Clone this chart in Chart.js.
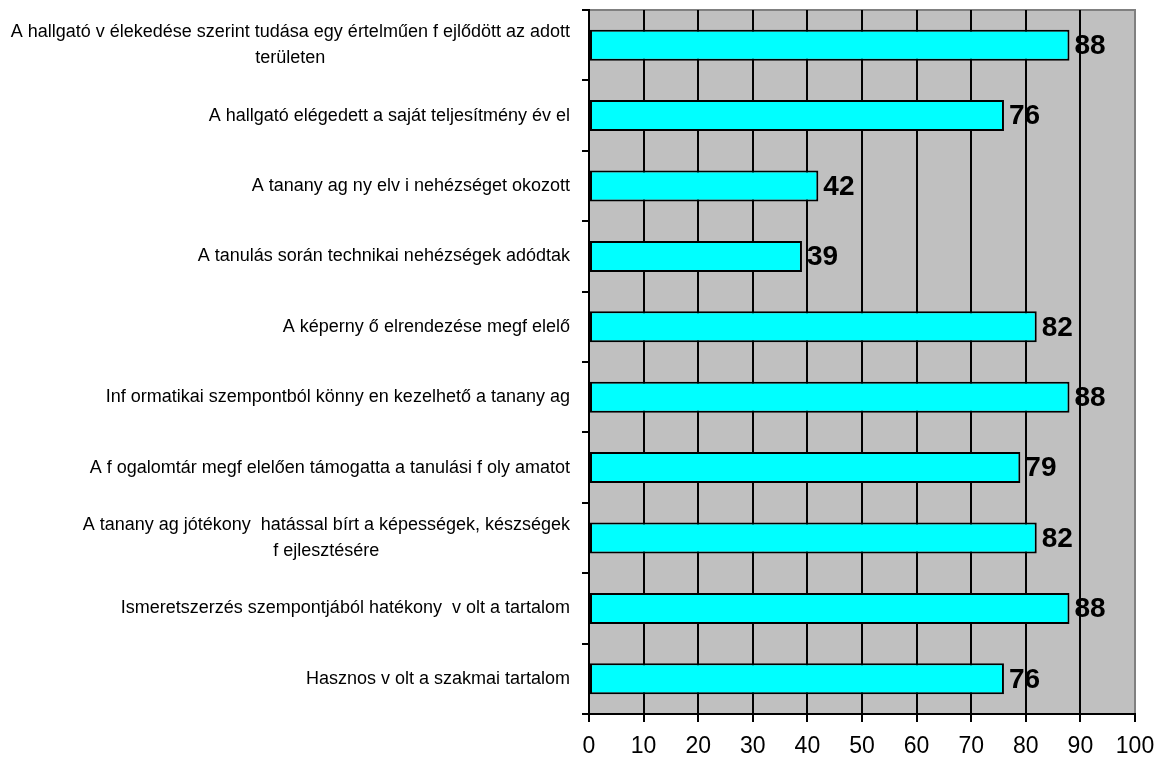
<!DOCTYPE html>
<html>
<head>
<meta charset="utf-8">
<script src="https://cdn.jsdelivr.net/npm/chart.js@4.4.1/dist/chart.umd.min.js"></script>
<style>
html,body{margin:0;padding:0;background:#fff;}
#wrap{width:1158px;height:762px;position:relative;}
</style>
</head>
<body>
<div id="wrap"><canvas id="c" width="1158" height="762"></canvas></div>
<script>
const categories = [
  ["A hallgató v élekedése szerint tudása egy értelműen f ejlődött az adott", "területen"],
  ["A hallgató elégedett a saját teljesítmény év el"],
  ["A tanany ag ny elv i nehézséget okozott"],
  ["A tanulás során technikai nehézségek adódtak"],
  ["A képerny ő elrendezése megf elelő"],
  ["Inf ormatikai szempontból könny en kezelhető a tanany ag"],
  ["A f ogalomtár megf elelően támogatta a tanulási f oly amatot"],
  ["A tanany ag jótékony  hatással bírt a képességek, készségek", "f ejlesztésére"],
  ["Ismeretszerzés szempontjából hatékony  v olt a tartalom"],
  ["Hasznos v olt a szakmai tartalom"]
];
const values = [88, 76, 42, 39, 82, 88, 79, 82, 88, 76];
const xMin = 0, xMax = 100, xStep = 10;

const plotBg = {
  id: 'plotBg',
  beforeDraw(chart) {
    const {ctx, chartArea: a} = chart;
    ctx.save();
    ctx.fillStyle = '#c0c0c0';
    ctx.fillRect(a.left, a.top, a.right - a.left, a.bottom - a.top);
    ctx.strokeStyle = '#808080';
    ctx.lineWidth = 2;
    ctx.beginPath();
    ctx.moveTo(a.left, a.top);
    ctx.lineTo(a.right, a.top);
    ctx.lineTo(a.right, a.bottom);
    ctx.stroke();
    ctx.restore();
  }
};

const catLabels = {
  id: 'catLabels',
  afterDraw(chart) {
    const {ctx} = chart;
    const yScale = chart.scales.y;
    const rightEdge = 570;
    const lh = 26;
    ctx.save();
    ctx.font = '18px "Liberation Sans", Arial, sans-serif';
    ctx.fillStyle = '#000';
    ctx.textBaseline = 'middle';
    ctx.textAlign = 'center';
    chart.data.labels.forEach((lines, i) => {
      const yc = yScale.getPixelForValue(i);
      let w = 0;
      lines.forEach(l => { w = Math.max(w, ctx.measureText(l).width); });
      const cx = rightEdge - w / 2;
      lines.forEach((l, j) => {
        ctx.fillText(l, cx, yc + (j - (lines.length - 1) / 2) * lh);
      });
    });
    ctx.restore();
  }
};

const valueLabels = {
  id: 'valueLabels',
  afterDatasetsDraw(chart) {
    const {ctx} = chart;
    const meta = chart.getDatasetMeta(0);
    ctx.save();
    ctx.font = 'bold 28px "Liberation Sans", Arial, sans-serif';
    ctx.fillStyle = '#000';
    ctx.textBaseline = 'middle';
    ctx.textAlign = 'left';
    meta.data.forEach((bar, i) => {
      ctx.fillText(String(chart.data.datasets[0].data[i]), bar.x + 5, bar.y + 1);
    });
    ctx.restore();
  }
};

new Chart(document.getElementById('c'), {
  type: 'bar',
  data: {
    labels: categories,
    datasets: [{
      data: values,
      backgroundColor: '#00ffff',
      borderColor: '#000000',
      borderWidth: 2,
      borderSkipped: false,
      barPercentage: 0.44,
      categoryPercentage: 1.0
    }]
  },
  options: {
    indexAxis: 'y',
    responsive: false,
    animation: false,
    events: [],
    layout: { padding: { left: 0, right: 23, top: 10, bottom: 0 } },
    plugins: { legend: { display: false }, tooltip: { enabled: false } },
    scales: {
      x: {
        type: 'linear',
        min: xMin, max: xMax,
        ticks: {
          stepSize: xStep,
          color: '#000',
          padding: 11,
          font: { family: '"Liberation Sans", Arial, sans-serif', size: 23 }
        },
        grid: {
          color: (c) => (c.tick && c.tick.value === xMax) ? 'rgba(0,0,0,0)' : '#000',
          tickColor: '#000',
          lineWidth: 2,
          tickLength: 8,
          drawOnChartArea: true
        },
        border: { display: true, color: '#000', width: 2 },
        afterFit(s) { s.height = 48; s.paddingRight = 0; s.paddingLeft = 0; }
      },
      y: {
        type: 'category',
        offset: true,
        ticks: { display: false },
        grid: {
          offset: true,
          drawOnChartArea: false,
          color: '#000',
          lineWidth: 2,
          tickLength: 7
        },
        border: { display: true, color: '#000', width: 2 },
        afterFit(s) { s.width = 589; s.paddingTop = 0; s.paddingBottom = 0; }
      }
    }
  },
  plugins: [plotBg, catLabels, valueLabels]
});
</script>
</body>
</html>
